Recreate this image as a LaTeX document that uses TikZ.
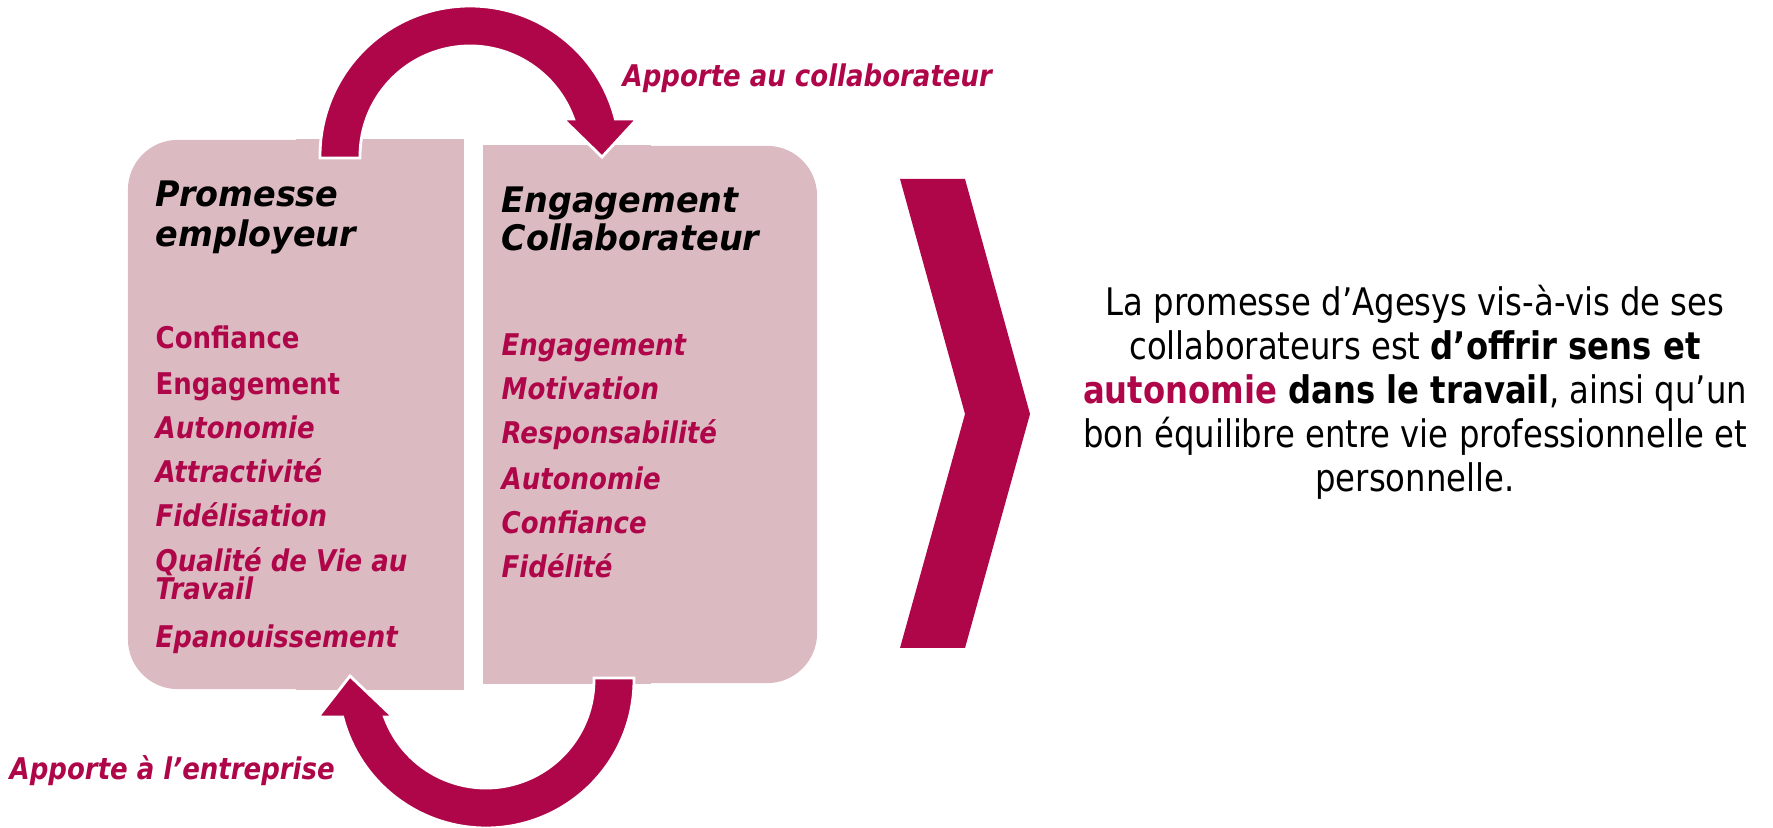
\documentclass[tikz,border=0pt]{standalone}
\usepackage{xcolor}
\usepackage{fontspec}
\usepackage{tikz}

\setmainfont{DejaVu Sans}
\newfontfamily\itemfont[FakeStretch=0.87]{DejaVu Sans}
\newfontfamily\titlefont[FakeStretch=0.95]{DejaVu Sans}
\newfontfamily\parafont[FakeStretch=0.85]{DejaVu Sans}

\definecolor{agesys}{RGB}{175,6,74}
\definecolor{boxpink}{RGB}{220,186,194}

\begin{document}
\begin{tikzpicture}[
        x=0.01cm, y=-0.01cm,
        panel/.style={rectangle, fill=boxpink, rounded corners=0.5cm, inner sep=0pt},
        heading/.style={anchor=base west, inner sep=0pt, font=\titlefont\bfseries\itshape\fontsize{10}{11}\selectfont},
        item/.style={anchor=base west, inner sep=0pt, text=agesys, font=\itemfont\bfseries\itshape\fontsize{8.5}{8}\selectfont},
        itemup/.style={item, font=\itemfont\bfseries\fontsize{8.5}{8}\selectfont},
        loop/.style={fill=agesys, draw=white, line width=0.8pt},
        chevron/.style={fill=agesys}
    ]
        \useasboundingbox (0,0) rectangle (1773,828);

        % ========== PANELS ==========
        \node[panel, minimum width=3.35cm, minimum height=5.49cm] (promesse) at (295.5,414.5) {};
        \fill[boxpink] (promesse.north) rectangle (promesse.south east);
        \node[panel, minimum width=3.33cm, minimum height=5.37cm] (engagement) at (650.5,414.5) {};
        \fill[boxpink] (engagement.north west) rectangle (engagement.south);

        % ========== LOOP ARROWS ==========
        % top: from the promise over to the commitment
        \draw[loop] (320,158) -- (320,156) arc[start angle=180, end angle=345.7, radius=150]
            -- (637,119) -- (602,157) -- (563,119) -- (573.6,119)
            arc[start angle=340.35, end angle=180, radius=110] -- (360,158) -- cycle;
        % bottom: from the commitment back to the promise
        \draw[loop] (634,678) -- (634,680) arc[start angle=0, end angle=165.5, radius=148]
            -- (318,717) -- (350,676) -- (393,717) -- (384.5,717)
            arc[start angle=159.97, end angle=0, radius=108] -- (594,678) -- cycle;

        % ========== CHEVRON ==========
        \fill[chevron] (900,179) -- (965,179) -- (1030,414) -- (965,648) -- (900,648) -- (965,414) -- cycle;

        % ========== LEFT PANEL TEXT ==========
        \node[heading] (promesseT1) at (155,207) {Promesse};
        \node[heading] (promesseT2) at (155,247) {employeur};
        \node[itemup] (pConfiance) at (155,349) {Confiance};
        \node[itemup] (pEngagement) at (155,395) {Engagement};
        \node[item] (pAutonomie) at (155,439) {Autonomie};
        \node[item] (pAttractivite) at (155,483) {Attractivité};
        \node[item] (pFidelisation) at (155,527) {Fidélisation};
        \node[item] (pQualite) at (155,572) {Qualité de Vie au};
        \node[item] (pTravail) at (155,600) {Travail};
        \node[item] (pEpanouissement) at (155,647) {Epanouissement};

        % ========== RIGHT PANEL TEXT ==========
        \node[heading] (engagementT1) at (501,213) {Engagement};
        \node[heading] (engagementT2) at (501,251) {Collaborateur};
        \node[item] (eEngagement) at (501,356) {Engagement};
        \node[item] (eMotivation) at (501,400) {Motivation};
        \node[item] (eResponsabilite) at (501,444) {Responsabilité};
        \node[item] (eAutonomie) at (501,490) {Autonomie};
        \node[item] (eConfiance) at (501,534) {Confiance};
        \node[item] (eFidelite) at (501,578) {Fidélité};

        % ========== LOOP LABELS ==========
        \node[item] (toCollab) at (622,87) {Apporte au collaborateur};
        \node[item] (toFirm) at (9,779) {Apporte à l’entreprise};

        % ========== STATEMENT ==========
        \node[align=center, inner sep=0pt, font=\parafont\fontsize{10.8}{12.5}\selectfont] (statement) at (1415,392)
            {La promesse d’Agesys vis-à-vis de ses\\
             collaborateurs est \textbf{d’offrir sens et}\\
             \textbf{\textcolor{agesys}{autonomie} dans le travail}, ainsi qu’un\\
             bon équilibre entre vie professionnelle et\\
             personnelle.};

    \end{tikzpicture}
\end{document}
